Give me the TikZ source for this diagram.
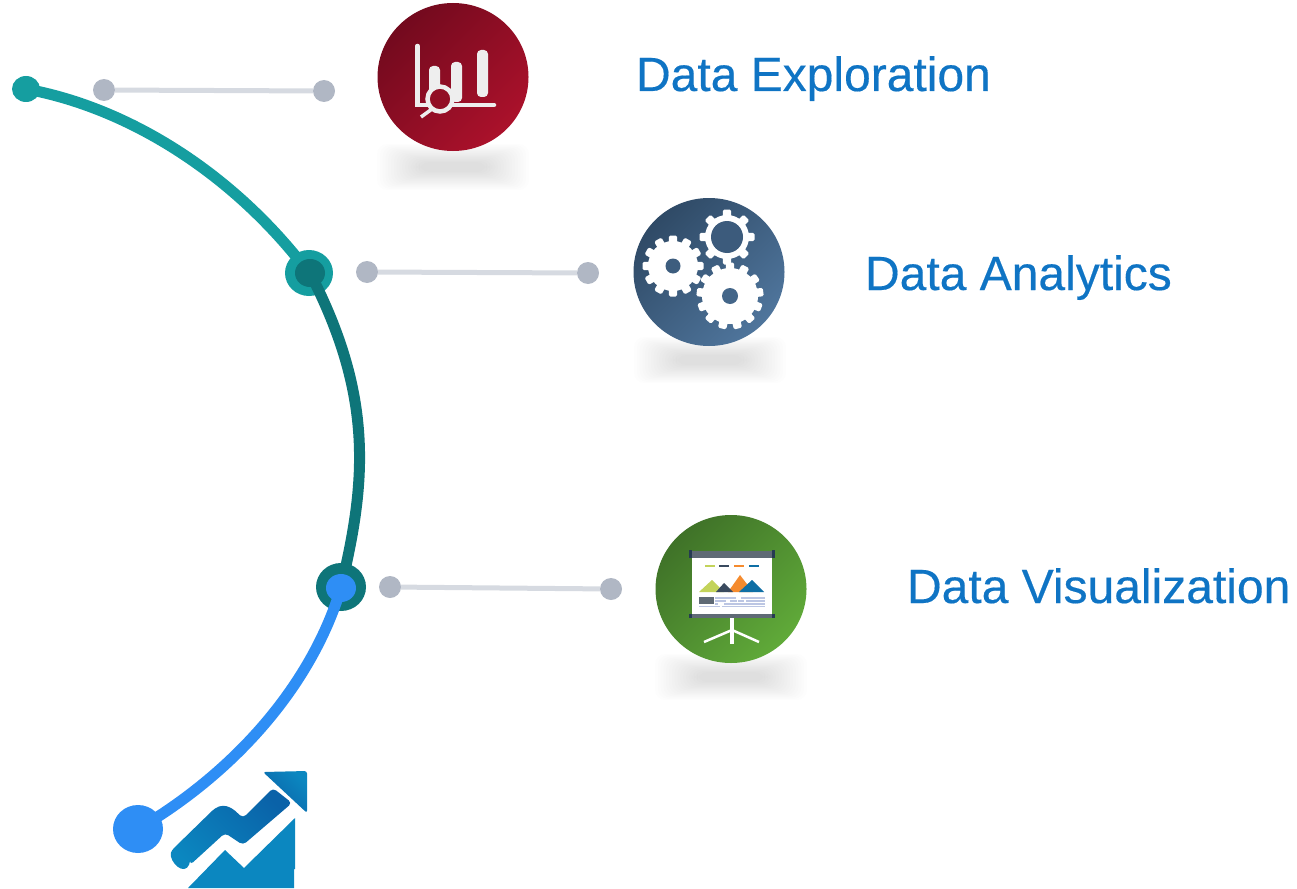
\documentclass[tikz,border=0pt]{standalone}
\usepackage{fontspec}
\setmainfont{Liberation Sans}
\newfontfamily\topicfont[FakeBold=0.35]{Liberation Sans}
\usetikzlibrary{shapes.geometric}
\definecolor{tealA}{HTML}{159EA0}
\definecolor{tealB}{HTML}{0E7579}
\definecolor{blueC}{HTML}{2E8EF5}
\definecolor{dotgray}{HTML}{B0B7C4}
\definecolor{linegray}{HTML}{D6DAE1}
\definecolor{labelblue}{HTML}{0F74C4}
\definecolor{paleice}{HTML}{EEEEEE}
\definecolor{redA}{HTML}{730A1E}
\definecolor{redB}{HTML}{AB112B}
\definecolor{slateA}{HTML}{2F4A66}
\definecolor{slateB}{HTML}{4F759C}
\definecolor{leafA}{HTML}{3F7228}
\definecolor{leafB}{HTML}{60AA39}
\definecolor{arrowA}{HTML}{0B87C0}
\definecolor{arrowB}{HTML}{0A62A8}
\tikzset{
  blob/.style={ellipse, inner sep=0pt, minimum width=#1},
  graydot/.style={circle, fill=dotgray, inner sep=0pt, minimum size=22pt},
  graylink/.style={draw=linegray, line width=5pt},
  topic/.style={anchor=base west, text=labelblue, font=\topicfont\fontsize{48}{48}\selectfont},
  badge/.style n args={2}{ellipse, inner sep=0pt, minimum width=151pt, minimum height=148pt, top color=#1, bottom color=#2, shading angle=45},
  track/.style={line width=11pt},
}
% gear: centre x, centre y, body radius, tooth count, hole radius
\newcommand{\gearicon}[6]{
  \foreach \k in {1,...,#4} {
    \pgfmathsetmacro{\ang}{360*\k/#4}
    \fill[white, rotate around={\ang:(#1,#2)}, rounded corners=1.5pt] (#1-4.2,#2-#3-5.5) rectangle (#1+4.2,#2);
  }
  \fill[white] (#1,#2) circle (#3);
  \fill[#6] (#1,#2) circle (#5);
}
% soft shadow under a badge
\newcommand{\softshadow}[2]{
  \foreach \k in {0,...,15} {
    \fill[black, opacity=0.009, rounded corners=10pt] (#1-76+\k*2.8,#2-23+\k*1.2) rectangle (#1+76-\k*2.8,#2+23-\k*1.2);
  }
}
\begin{document}
\begin{tikzpicture}[x=1pt,y=-1pt]
\useasboundingbox (0,0) rectangle (1297,888);
% shadows
\softshadow{453}{167}
\softshadow{710}{360}
\softshadow{731}{677}
% main curve
\node[blob=28pt, minimum height=26pt, fill=tealA] (startdot) at (26,89) {};
\node[blob=48pt, minimum height=46pt, fill=tealA] (jointa) at (309,273) {};
\draw[track, tealA] (startdot.center) .. controls (130,108) and (235,175) .. (jointa.center);
\node[blob=30pt, minimum height=28pt, fill=tealB] (jointai) at (310,273) {};
\node[blob=50pt, minimum height=48pt, fill=tealB] (jointb) at (341,587) {};
\draw[track, tealB] (jointai.center) .. controls (373,395) and (367,480) .. (jointb.center);
\node[blob=30pt, minimum height=28pt, fill=blueC] (jointbi) at (341,588) {};
\node[blob=50pt, minimum height=48pt, fill=blueC] (enddot) at (138,829) {};
\draw[track, blueC] (jointbi.center) .. controls (310,690) and (230,775) .. (enddot.center);
% gray links
\node[graydot] (linkaL) at (104,90) {};
\node[graydot] (linkaR) at (324,91) {};
\node[graydot] (linkbL) at (367,272) {};
\node[graydot] (linkbR) at (588,273) {};
\node[graydot] (linkcL) at (390,587) {};
\node[graydot] (linkcR) at (611,589) {};
\draw[graylink] (linkaL) -- (linkaR);
\draw[graylink] (linkbL) -- (linkbR);
\draw[graylink] (linkcL) -- (linkcR);
% badges
\node[badge={redA}{redB}] (explore) at (453,77) {};
\node[badge={slateA}{slateB}] (analytics) at (709,272) {};
\node[badge={leafA}{leafB}] (visual) at (731,589) {};
% labels
\node[topic] (explorelabel) at (632.5,91) {Data Exploration};
\node[topic] (analyticslabel) at (861.5,290) {Data Analytics};
\node[topic] (visuallabel) at (903.5,603) {Data Visualization};
% chart icon
\draw[paleice, line width=4.5pt, line cap=round] (417.5,46) -- (417.5,105) -- (494,105);
\foreach \bx/\bt/\bb in {434.5/66/102, 456.5/62/102, 482.5/50/97} {
  \fill[paleice, rounded corners=4pt] (\bx-5.5,\bt) rectangle (\bx+5.5,\bb);
}
\draw[paleice, line width=3.5pt] (432,109) -- (421,117);
\draw[paleice, line width=4.5pt, fill=redA!45!redB] (440,99) circle (12.5);
% gears
\gearicon{673}{266}{25}{12}{7.5}{slateA!55!slateB}
\gearicon{727}{237}{22}{8}{16}{slateA!60!slateB}
\gearicon{730}{296}{28}{13}{8}{slateA!35!slateB}
% screen icon
\fill[white] (692,555) rectangle (772,617);
\fill[white] (730,617) rectangle (734,644);
\draw[white, line width=2.5pt] (704,642) -- (732,630) -- (759,642);
\fill[gray!60!slateA] (692,551) rectangle (772,558);
\fill[gray!60!slateA] (692,614) rectangle (772,618);
\fill[slateA!80!black] (689,550) rectangle (692,558);
\fill[slateA!80!black] (772,550) rectangle (774.5,558);
\fill[slateA!80!black] (689,614) rectangle (692,618);
\fill[slateA!80!black] (772,614) rectangle (774.5,618);
\foreach \dx/\dc in {705/C3D35A, 719/3A4A5F, 734/F58B2E, 749/0F6FA5} {
  \definecolor{dashc}{HTML}{\dc}
  \fill[dashc] (\dx,565) rectangle (\dx+10,567);
}
\definecolor{peakA}{HTML}{C3D35A}
\definecolor{peakB}{HTML}{F58B2E}
\definecolor{peakC}{HTML}{3A4A5F}
\definecolor{peakD}{HTML}{0F6FA5}
\fill[peakA] (699,592) -- (712,580) -- (724,592) -- cycle;
\fill[peakB] (728,592) -- (740,575) -- (753,592) -- cycle;
\fill[peakC] (716,592) -- (724,583) -- (733,592) -- cycle;
\fill[peakD] (739,592) -- (752,580) -- (764,592) -- cycle;
\fill[gray!60!slateA] (699,597) rectangle (714,604);
\foreach \lx/\lw/\ly in {715/736/598, 741/765/598, 715/726/601, 730/737/601, 738/744/601, 746/765/601, 715/718/604, 724/765/604, 699/720/606.5, 722/765/606.5} {
  \draw[blue!20!slateB!35!white, line width=1.4pt] (\lx,\ly) -- (\lw,\ly);
}
% rising arrow
\fill[arrowA] (188,888) -- (225,850) -- (244,868) -- (295,818) -- (295,869) -- (294,869) -- (294,888) -- cycle;
\shade[top color=arrowB, middle color=arrowA, bottom color=arrowA, shading angle=-45, rounded corners=4pt]
  (190,865) -- (225,833) -- (243,845) -- (292,803) -- (273,788) -- (243,818) -- (232,808) -- (223,805) -- (215,808) -- (175,847)
  .. controls (166,857) and (180,874) .. (190,865) -- cycle;
\shade[rounded corners=2.5pt, top color=arrowA, bottom color=arrowB, shading angle=-45] (263,772) -- (307,771) -- (307,813) -- cycle;
\end{tikzpicture}
\end{document}
